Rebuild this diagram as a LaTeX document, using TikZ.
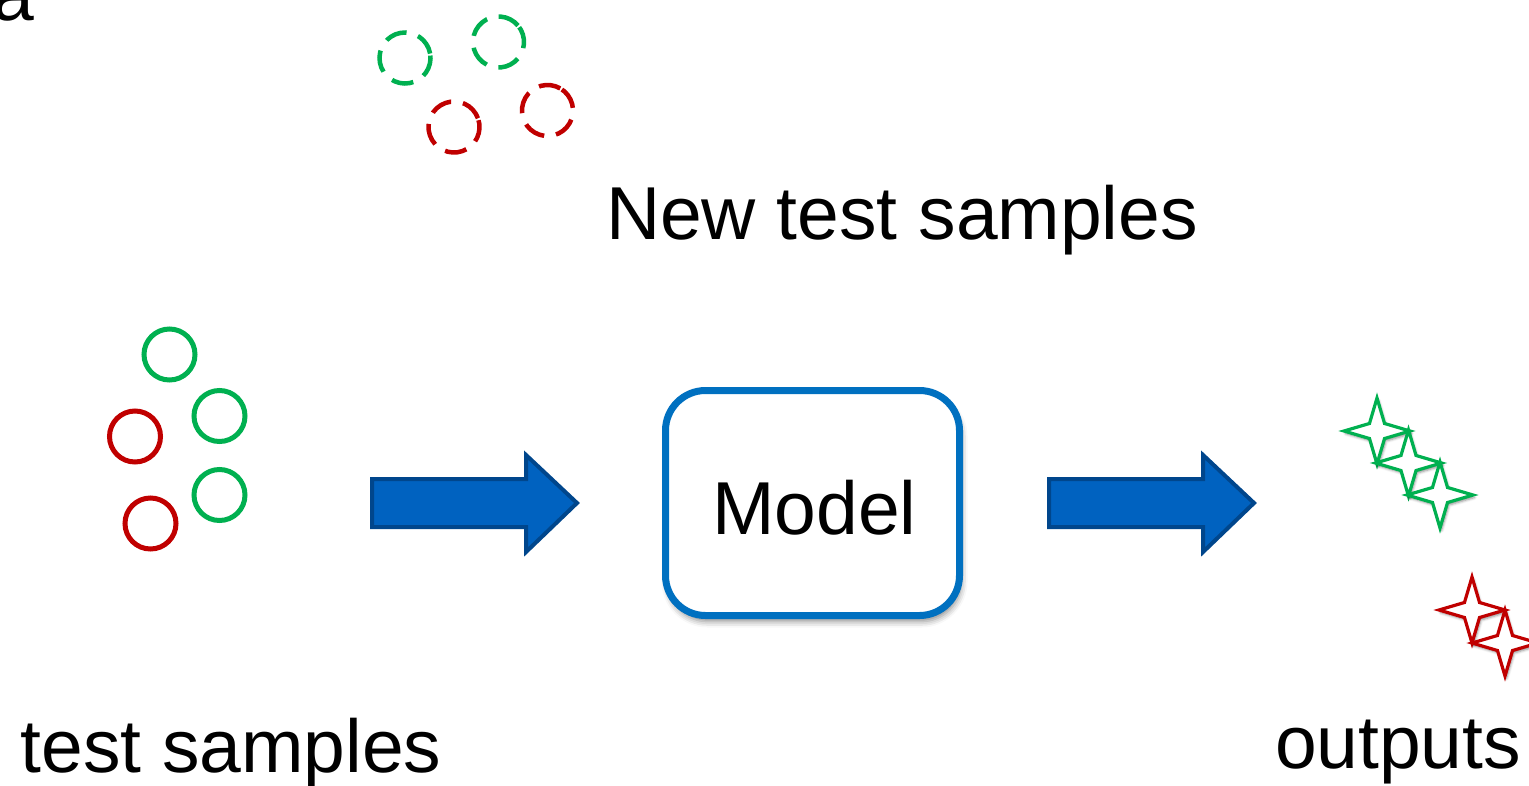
\documentclass[tikz,border=0pt]{standalone}
\usepackage{fontspec}
\setmainfont{Liberation Sans}
\usetikzlibrary{shapes.geometric,shadows.blur}
\definecolor{okgreen}{RGB}{0,176,80}
\definecolor{okred}{RGB}{192,0,0}
\definecolor{boxblue}{RGB}{0,112,192}
\definecolor{arrowfill}{RGB}{0,98,192}
\definecolor{arrowedge}{RGB}{0,70,140}
\tikzset{
  label text/.style={inner sep=0pt, font=\fontsize{75}{80}\selectfont},
  sample/.style={circle, draw=#1, line width=5pt, minimum size=51pt, inner sep=0pt},
  newsample/.style={sample=#1, line width=4.5pt, dash pattern=on 22pt off 12pt},
  outstar/.style={star, star points=4, star point ratio=3.1, minimum size=66pt,
    inner sep=0pt, outer sep=0pt, draw=#1, line width=3.2pt, fill=white,
    blur shadow={shadow xshift=1.5pt, shadow yshift=-2.5pt,
      shadow blur radius=2.5pt, shadow opacity=45}},
  blockarrow/.style={fill=arrowfill, draw=arrowedge, line width=4pt, line join=miter},
}
\begin{document}
\begin{tikzpicture}[x=1pt, y=-1pt]
\useasboundingbox (0,0) rectangle (1529,785);

% partial panel letter at the top-left corner
\node[label text, anchor=base west] (panel) at (-8,20) {a};

% new, unseen samples (dashed)
\node[newsample=okgreen, rotate=10] (n1) at (405,58) {};
\node[newsample=okgreen, rotate=40] (n2) at (498.5,42) {};
\node[newsample=okred, rotate=20] (n3) at (454,127) {};
\node[newsample=okred, rotate=60] (n4) at (547.5,110.5) {};
\node[label text, anchor=base] (newlbl) at (902,239) {New test samples};

% test samples
\node[sample=okgreen] (s1) at (169.5,354.5) {};
\node[sample=okgreen] (s2) at (219.5,416) {};
\node[sample=okred]   (s3) at (135,436.5) {};
\node[sample=okgreen] (s4) at (219.5,495) {};
\node[sample=okred]   (s5) at (150.5,523.5) {};
\node[label text, anchor=base] (testlbl) at (231,772) {test samples};

% block arrows
\draw[blockarrow] (372,479) -- (526,479) -- (526,455) -- (577,503)
  -- (526,552) -- (526,527) -- (372,527) -- cycle;
\draw[blockarrow] (1049,479) -- (1203,479) -- (1203,455) -- (1254,503)
  -- (1203,552) -- (1203,527) -- (1049,527) -- cycle;

% model
\node[draw=boxblue, line width=7pt, rounded corners=40pt, fill=white,
  minimum width=294pt, minimum height=225pt, inner sep=0pt,
  blur shadow={shadow xshift=2pt, shadow yshift=-6pt,
    shadow blur radius=6pt, shadow opacity=45}]
  (model) at (812.5,503) {};
\node[label text, anchor=base] (modellbl) at (814.5,534) {Model};

% outputs
\node[outstar=okgreen] (g1) at (1377,431) {};
\node[outstar=okgreen] (g2) at (1408.5,463) {};
\node[outstar=okgreen] (g3) at (1440,495) {};
\node[outstar=okred] (r1) at (1472,610) {};
\node[outstar=okred] (r2) at (1505,643) {};
\node[label text, anchor=base] (outlbl) at (1398,768) {outputs};
\end{tikzpicture}
\end{document}
